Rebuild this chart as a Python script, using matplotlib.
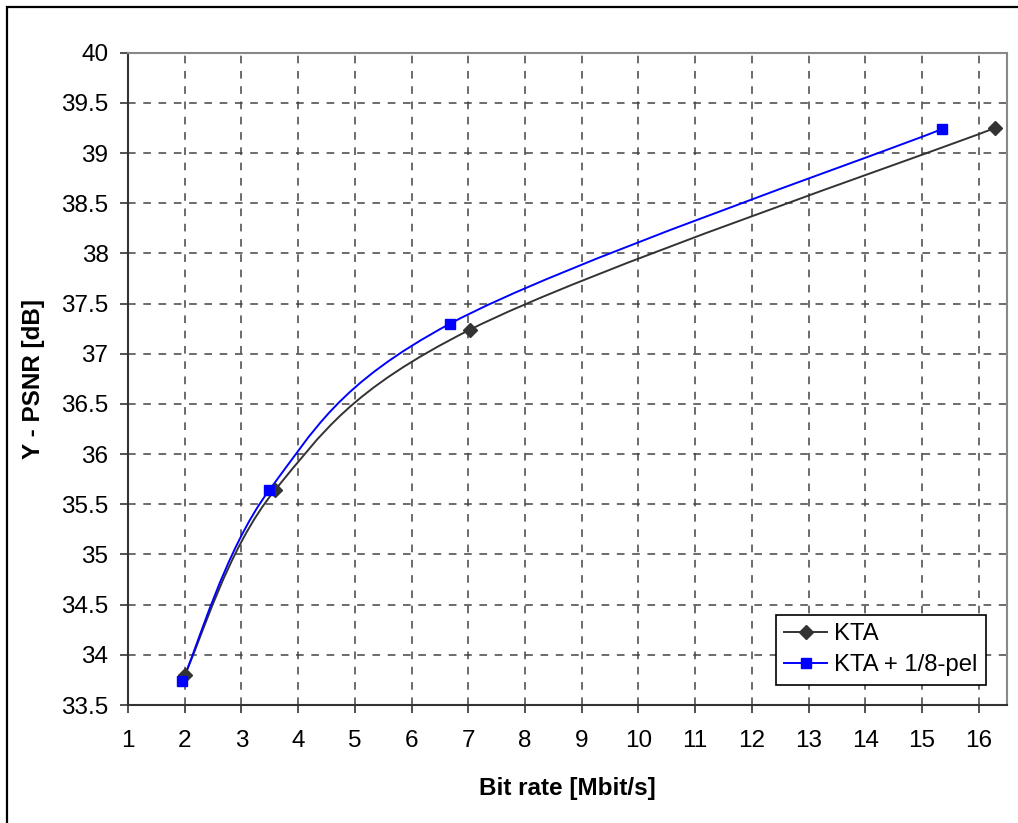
import numpy as np
import matplotlib
matplotlib.use("Agg")
import matplotlib.pyplot as plt
from matplotlib.path import Path
from matplotlib.patches import PathPatch, Rectangle
from matplotlib.lines import Line2D

plt.rcParams['font.family'] = ['Liberation Sans', 'DejaVu Sans']

# Rate-distortion points
kta_rate = [2.0, 3.59, 7.03, 16.29]
kta_psnr = [33.80, 35.64, 37.24, 39.25]
pel8_rate = [1.96, 3.49, 6.68, 15.36]
pel8_psnr = [33.74, 35.64, 37.30, 39.24]

x_ticks = list(range(1, 17))
y_ticks = [33.5 + 0.5 * i for i in range(14)]


# Excel-like smoothed line: Catmull-Rom segments as cubic Bezier curves
def smooth_path(xs, ys):
    pts = np.column_stack([xs, ys]).astype(float)
    n = len(pts)
    verts = [pts[0]]
    codes = [Path.MOVETO]
    for i in range(n - 1):
        p0 = pts[i - 1] if i > 0 else pts[i]
        p1 = pts[i]
        p2 = pts[i + 1]
        p3 = pts[i + 2] if i + 2 < n else pts[i + 1]
        c1 = p1 + (p2 - p0) / 6.0
        c2 = p2 - (p3 - p1) / 6.0
        verts += [c1, c2, p2]
        codes += [Path.CURVE4] * 3
    return Path(verts, codes)


fig = plt.figure(figsize=(10.18, 8.23), dpi=100)
ax = fig.add_axes([128 / 1018, 1 - 705 / 823, (1007 - 128) / 1018, (705 - 52.7) / 823])

series = [
    (kta_rate, kta_psnr, '#333333', 'D', 7, 'KTA'),
    (pel8_rate, pel8_psnr, '#0000ff', 's', 7, 'KTA + 1/8-pel'),
]
handles = []
for xs, ys, col, mk, ms, name in series:
    ax.add_patch(PathPatch(smooth_path(xs, ys), fill=False, edgecolor=col,
                           linewidth=1.4, zorder=3))
    ax.plot(xs, ys, linestyle='none', marker=mk, markersize=ms, color=col, zorder=4)
    handles.append(Line2D([], [], color=col, linewidth=1.4, marker=mk,
                          markersize=ms, label=name))

ax.set_xlim(1, 16.5)
ax.set_ylim(33.5, 40)
ax.set_xticks(x_ticks)
ax.set_yticks(y_ticks)
ax.set_yticklabels([f"{v:g}" for v in y_ticks])
ax.tick_params(axis='both', direction='out', length=6, width=1.2,
               color='#333333', labelsize=17.5)
ax.tick_params(axis='x', pad=12)
ax.tick_params(axis='y', pad=8)

ax.grid(True, color='#444444', linestyle=(0, (5, 5)), linewidth=1.1)
ax.set_axisbelow(True)

for side in ['left', 'bottom']:
    ax.spines[side].set_color('#333333')
    ax.spines[side].set_linewidth(1.5)
for side in ['top', 'right']:
    ax.spines[side].set_color('#888888')
    ax.spines[side].set_linewidth(1.5)

ax.set_xlabel('Bit rate [Mbit/s]', fontsize=17.5, fontweight='bold', labelpad=18)
ax.set_ylabel('Y - PSNR [dB]', fontsize=17.5, fontweight='bold', labelpad=12)

leg = ax.legend(handles=handles, loc='lower right', bbox_to_anchor=(0.976, 0.031),
                fontsize=17.2, frameon=True, fancybox=False, shadow=False,
                handlelength=1.8, handletextpad=0.3, borderpad=0.35,
                labelspacing=0.4, borderaxespad=0)
leg.get_frame().set_edgecolor('black')
leg.get_frame().set_linewidth(1.2)
leg.get_frame().set_alpha(1)

# outer border of the chart object
fig.patches.append(Rectangle((6.5 / 1018, -0.2), 2, 1 - 6.5 / 823 + 0.2,
                             transform=fig.transFigure, fill=False,
                             edgecolor='black', linewidth=1.6))

fig.savefig('out.png', dpi=100)
